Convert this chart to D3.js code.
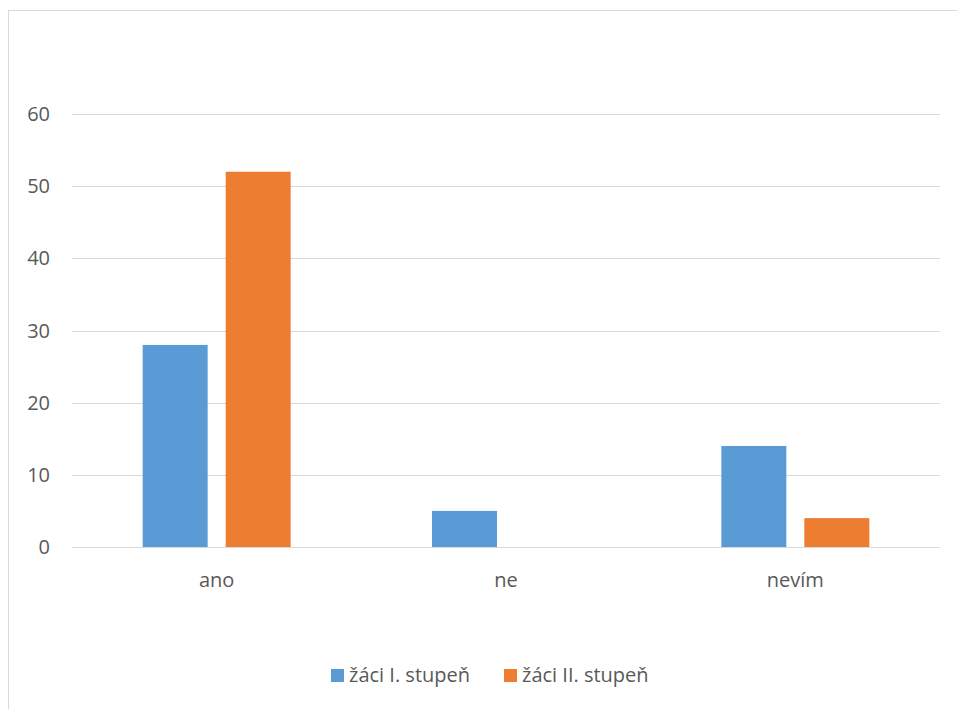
<!DOCTYPE html>
<html>
<head>
<meta charset="utf-8">
<script src="https://cdn.jsdelivr.net/npm/d3@7"></script>
<style>
  body { margin: 0; background: #fff; }
  svg { display: block; }
  text { font-family: "Open Sans", "Liberation Sans", sans-serif; fill: #595959; }
</style>
</head>
<body>
<svg id="chart" width="957" height="709"></svg>
<script>
// Survey answers per pupil group
const categories = ["ano", "ne", "nevím"];
const seriesNames = ["žáci I. stupeň", "žáci II. stupeň"];
const seriesI = [28, 5, 14];
const seriesII = [52, 0, 4];
const yTicks = [0, 10, 20, 30, 40, 50, 60];
const colors = ["#5B9BD5", "#ED7D31"];

const svg = d3.select("#chart");
const fontSize = 20;

// Chart frame
svg.append("rect")
  .attr("x", 8.5).attr("y", 10.5)
  .attr("width", 960).attr("height", 710)
  .attr("fill", "none").attr("stroke", "#d9d9d9").attr("stroke-width", 1);

const plotLeft = 72, plotRight = 940, plotTop = 114, plotBottom = 547;

const x = d3.scaleBand().domain(categories).range([plotLeft, plotRight]);
const y = d3.scaleLinear().domain([0, 60]).range([plotBottom, plotTop]);

// Horizontal gridlines
svg.append("g").selectAll("line").data(yTicks).join("line")
  .attr("x1", plotLeft).attr("x2", plotRight)
  .attr("y1", d => Math.round(y(d)) + 0.5).attr("y2", d => Math.round(y(d)) + 0.5)
  .attr("stroke", "#d9d9d9").attr("stroke-width", 1);

// Y axis labels
svg.append("g").selectAll("text").data(yTicks).join("text")
  .attr("x", 50).attr("y", d => y(d))
  .attr("dy", "0.35em")
  .attr("text-anchor", "end")
  .attr("font-size", fontSize)
  .text(d => d);

// Category labels
svg.append("g").selectAll("text").data(categories).join("text")
  .attr("x", d => x(d) + x.bandwidth() / 2)
  .attr("y", 580)
  .attr("dy", "0.35em")
  .attr("text-anchor", "middle")
  .attr("font-size", fontSize)
  .text(d => d);

// Bars: two per category, centred in the band
const barW = 65, gap = 18;
const series = [seriesI, seriesII];
series.forEach((vals, si) => {
  svg.append("g").selectAll("rect").data(categories).join("rect")
    .attr("x", c => x(c) + x.bandwidth() / 2 - (barW * 2 + gap) / 2 + si * (barW + gap))
    .attr("y", (c, i) => y(vals[i]))
    .attr("width", barW)
    .attr("height", (c, i) => y(0) - y(vals[i]))
    .attr("fill", colors[si]);
});

// Legend
const legendItems = [{ x: 331, name: seriesNames[0], color: colors[0] },
                     { x: 504, name: seriesNames[1], color: colors[1] }];
const lg = svg.append("g").selectAll("g").data(legendItems).join("g");
lg.append("rect")
  .attr("x", d => d.x).attr("y", 669)
  .attr("width", 13).attr("height", 13)
  .attr("fill", d => d.color);
lg.append("text")
  .attr("x", d => d.x + 18).attr("y", 675)
  .attr("dy", "0.35em")
  .attr("font-size", fontSize)
  .text(d => d.name);
</script>
</body>
</html>
